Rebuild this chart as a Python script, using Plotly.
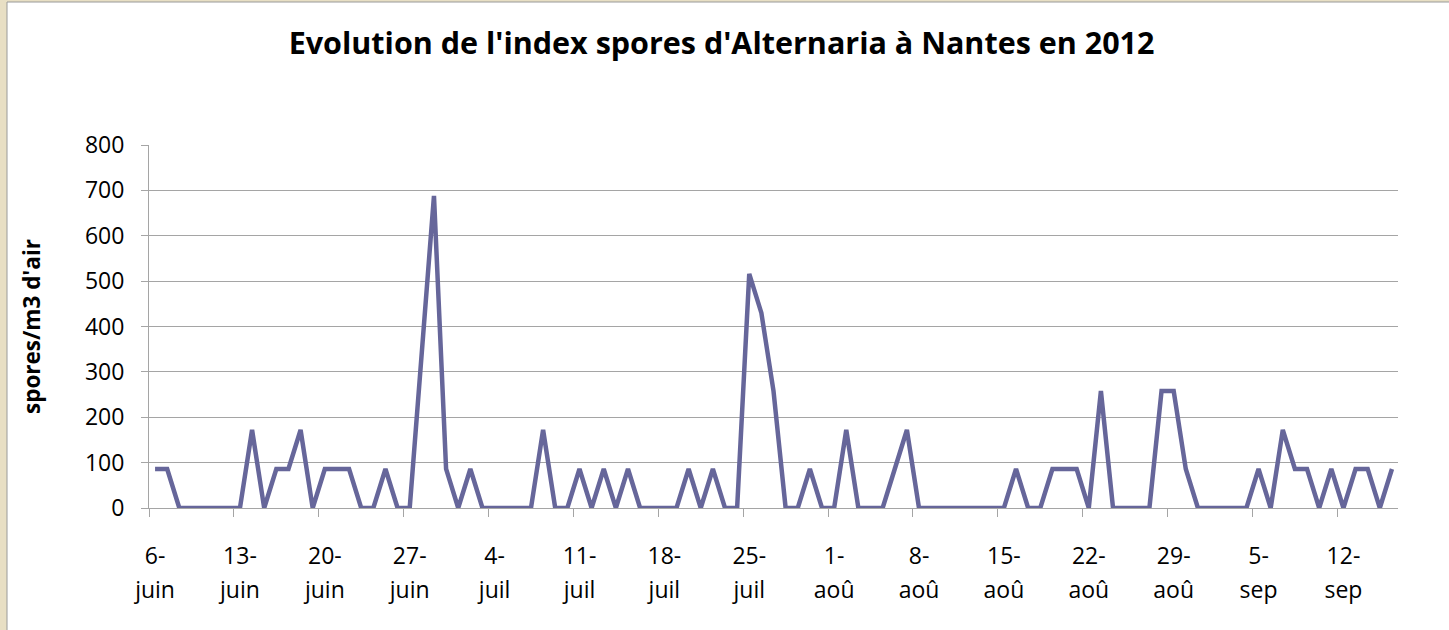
import plotly.graph_objects as go
import pandas as pd

# Daily spore index (spores/m3 d'air), 6 June -> 16 Sept 2012
values = [
    86, 86, 0, 0, 0, 0, 0, 0, 172, 0,
    86, 86, 172, 0, 86, 86, 86, 0, 0, 86,
    0, 0, 344, 688, 86, 0, 86, 0, 0, 0,
    0, 0, 172, 0, 0, 86, 0, 86, 0, 86,
    0, 0, 0, 0, 86, 0, 86, 0, 0, 516,
    430, 258, 0, 0, 86, 0, 0, 172, 0, 0,
    0, 86, 172, 0, 0, 0, 0, 0, 0, 0,
    0, 86, 0, 0, 86, 86, 86, 0, 258, 0,
    0, 0, 0, 258, 258, 86, 0, 0, 0, 0,
    0, 86, 0, 172, 86, 86, 0, 86, 0, 86,
    86, 0, 86,
]
dates = pd.date_range("2012-06-06", periods=len(values), freq="D")

tick_dates = ["2012-06-06", "2012-06-13", "2012-06-20", "2012-06-27", "2012-07-04",
              "2012-07-11", "2012-07-18", "2012-07-25", "2012-08-01", "2012-08-08",
              "2012-08-15", "2012-08-22", "2012-08-29", "2012-09-05", "2012-09-12"]
tick_days = ["6-", "13-", "20-", "27-", "4-", "11-", "18-", "25-", "1-", "8-",
             "15-", "22-", "29-", "5-", "12-"]
tick_months = ["juin", "juin", "juin", "juin", "juil", "juil", "juil", "juil",
               "aoû", "aoû", "aoû", "aoû", "aoû", "sep", "sep"]

FONT = "Open Sans"
GRID = "#a5a5a5"
BEIGE = "#e8dfc4"
xrange = ["2012-06-05 12:00", "2012-09-16 12:00"]

fig = go.Figure()
fig.add_trace(go.Scatter(
    x=dates, y=values, mode="lines",
    line=dict(color="#66669a", width=4.5),
    showlegend=False, hoverinfo="x+y",
))
# invisible trace to carry the second (month) label row
fig.add_trace(go.Scatter(x=[dates[0]], y=[0], xaxis="x2", mode="markers",
                         marker=dict(opacity=0), showlegend=False, hoverinfo="skip"))

fig.update_layout(
    width=1449, height=630,
    margin=dict(l=149, r=51, t=145, b=122),
    paper_bgcolor=BEIGE,
    plot_bgcolor="white",
    font=dict(family=FONT, size=23, color="#000000"),
    title=dict(text="<b>Evolution de l'index spores d'Alternaria à Nantes en 2012</b>",
               x=0.498, xref="container", xanchor="center",
               y=1 - 43 / 630, yref="container", yanchor="middle",
               font=dict(family=FONT, size=30.5, color="#000000")),
    xaxis=dict(
        type="date", range=xrange,
        tickmode="array", tickvals=tick_dates, ticktext=tick_days,
        ticks="", showgrid=False, showline=True, linecolor=GRID, linewidth=1,
        ticklabelstandoff=27, tickangle=0,
        minor=dict(ticks="outside", ticklen=8, tickcolor=GRID, tickwidth=1,
                   tick0="2012-06-05 12:00", dtick=7 * 86400000, showgrid=False),
        zeroline=False,
        tickfont=dict(family=FONT, size=23),
    ),
    xaxis2=dict(
        type="date", range=xrange, overlaying="x", side="bottom", anchor="y",
        tickmode="array", tickvals=tick_dates, ticktext=tick_months,
        ticks="", showgrid=False, showline=False, ticklabelstandoff=66,
        tickangle=0, zeroline=False,
        tickfont=dict(family=FONT, size=23),
    ),
    yaxis=dict(
        range=[0, 800], dtick=100, tick0=0,
        showgrid=True, gridcolor=GRID, gridwidth=1,
        showline=True, linecolor=GRID, linewidth=1,
        ticks="outside", ticklen=7, tickcolor=GRID,
        ticklabelstandoff=12,
        zeroline=False,
        tickfont=dict(family=FONT, size=23),
        title=dict(text="<b>spores/m3 d'air</b>", standoff=38,
                   font=dict(family=FONT, size=22.5)),
    ),
    shapes=[dict(
        type="rect", xref="paper", yref="paper", layer="below",
        x0=(7 - 149) / 1249, x1=(1460 - 149) / 1249,
        y0=(508 - 640) / 363, y1=(508 - 2) / 363,
        fillcolor="white", line=dict(color="#9a9a9a", width=1),
    )],
)

fig.write_html(
    "out.html",
    config={"displayModeBar": False},
    post_script=("document.body.style.margin='0';"
                 "document.body.style.padding='0';"
                 "document.body.style.overflow='hidden';"
                 f"document.body.style.background='{BEIGE}';"),
)
